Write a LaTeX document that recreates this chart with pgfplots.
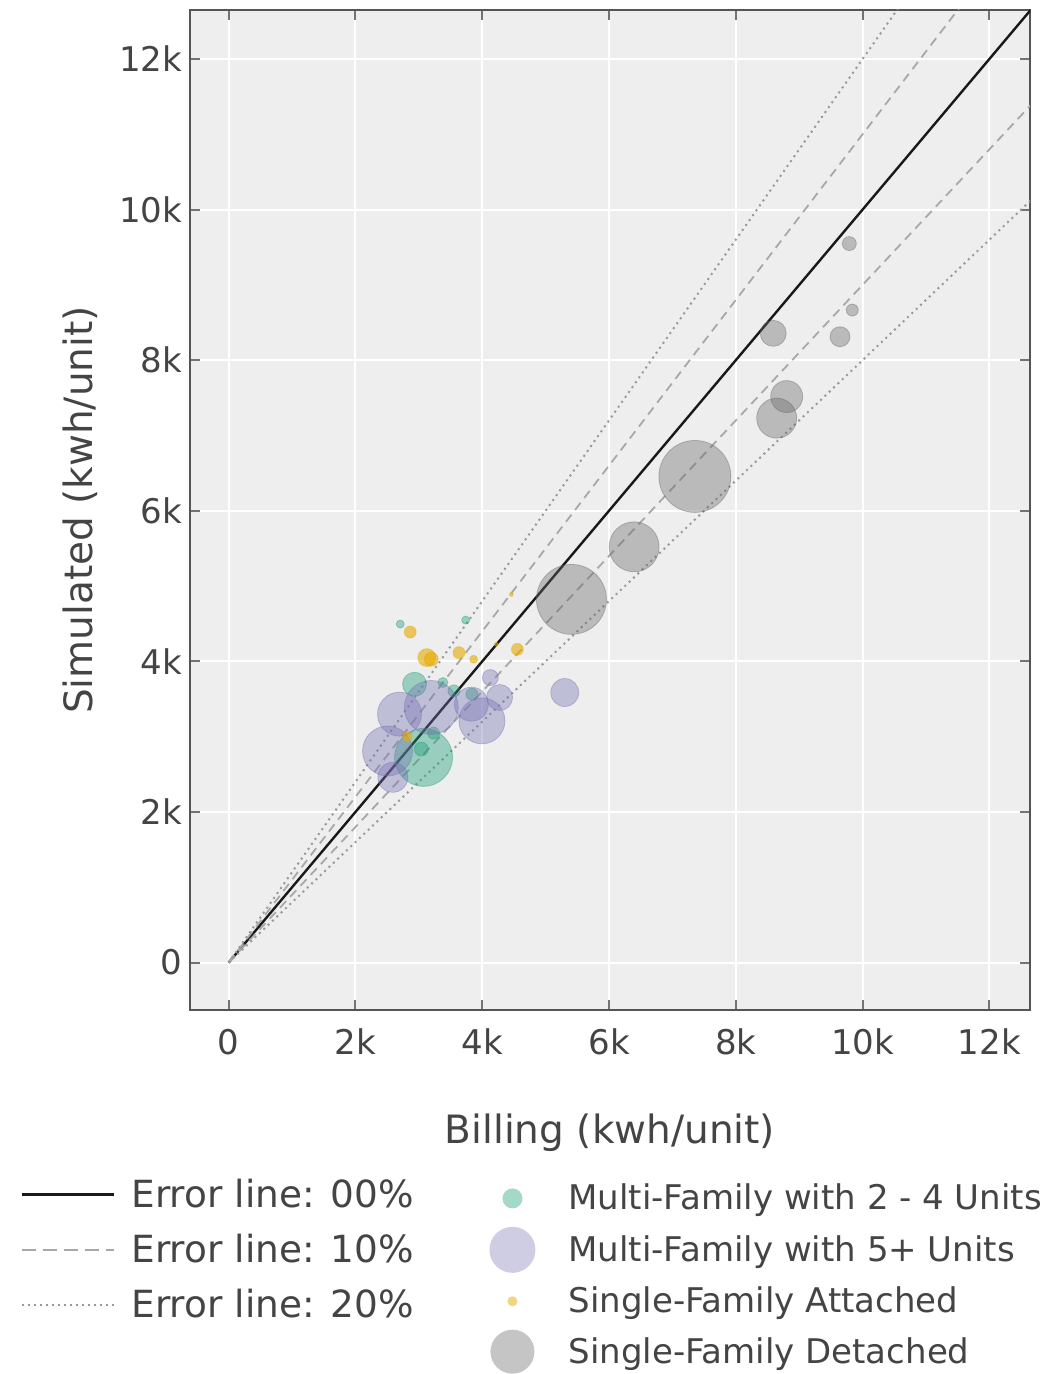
\documentclass[border=0pt]{standalone}
\usepackage{pgfplots}
\usepackage{pgfplotstable}
\pgfplotsset{compat=1.18}
\usepackage{fontspec}
\setmainfont{DejaVu Sans}
\definecolor{cgreen}{HTML}{1B9E77}
\definecolor{cpurple}{HTML}{7570B3}
\definecolor{cyellow}{HTML}{E6AB02}
\definecolor{cgray}{HTML}{666666}
\definecolor{bg}{HTML}{EEEEEE}
\definecolor{framec}{HTML}{555555}
\definecolor{tickc}{HTML}{444444}
\definecolor{dashc}{HTML}{A8A8A8}
\definecolor{dotc}{HTML}{999999}

\pgfplotstableread{
x y r
2706 4495 2
3738 4548 2
2932 3696 6
3379 3719 2.5
3553 3608 3
3837 3564 3
3074 2725 14.5
3232 3047 3
3038 2835 3.5
}\greendata
\pgfplotstableread{
x y r
4128 3785 4
5301 3586 7
4274 3520 6.5
3828 3431 8.5
3995 3210 11.5
3196 3388 13.5
2695 3299 11
2506 2809 12.5
2590 2460 7.5
}\purpledata
\pgfplotstableread{
x y r
2864 4389 3
3126 4050 4.5
3196 4028 3.5
3632 4116 3
3864 4028 2
4554 4160 3
4222 4226 1
2817 3003 2.5
4459 4889 1
}\yellowdata
\pgfplotstableread{
x y r
9790 9548 3.5
9837 8665 3
9643 8311 5
8590 8356 6.5
8802 7516 8
8644 7230 10
7354 6456 18
6395 5521 12.5
5407 4823 17.5
}\graydata

\pgfplotsset{
  bubble/.style 2 args={scatter, only marks, mark=*, forget plot,
    scatter/use mapped color={draw=#1, fill=#1, fill opacity=#2, draw opacity=0.4, line width=0.4pt},
    visualization depends on={\thisrow{r}\as\rr},
    scatter/@pre marker code/.append style={/tikz/mark size=\rr pt}},
}

\begin{document}
\begin{tikzpicture}
\begin{axis}[
  scale only axis, width=420pt, height=500pt,
  xmin=-610, xmax=12640, ymin=-630, ymax=12650,
  scaled x ticks=false, scaled y ticks=false,
  axis background/.style={fill=bg},
  axis line style={framec, line width=1.1pt},
  xtick={0,2000,4000,6000,8000,10000,12000},
  ytick={0,2000,4000,6000,8000,10000,12000},
  xticklabels={0,2k,4k,6k,8k,10k,12k},
  yticklabels={0,2k,4k,6k,8k,10k,12k},
  grid=major, major grid style={white, line width=1pt},
  tick align=inside, major tick length=5pt,
  tick style={color=gray!90!black, line width=1pt},
  ticklabel style={font=\fontsize{17}{20}\selectfont, text=tickc},
  xticklabel style={anchor=center, yshift=-16pt},
  yticklabel style={anchor=east, inner xsep=0pt, xshift=-3.7pt},
  xlabel={Billing (kwh/unit)},
  ylabel={Simulated (kwh/unit)},
  xlabel style={at={(axis description cs:0.5,-0.123)}, anchor=center, font=\fontsize{19.5}{23}\selectfont, text=tickc},
  ylabel style={at={(axis description cs:-0.131,0.5)}, anchor=center, rotate=0, font=\fontsize{19.5}{23}\selectfont, text=tickc},
  legend style={at={(-0.2024,-0.1642)}, anchor=north west, draw=none, fill=none,
    inner sep=0pt, row sep=8pt, font=\fontsize{18.7}{22}\selectfont, nodes={text=tickc}},
  legend cell align=left,
]
\addplot[black!90, line width=1.2pt, forget plot] coordinates {(0,0) (13000,13000)};
\addplot[dashc, line width=0.9pt, dash pattern=on 4.5pt off 3pt, forget plot] coordinates {(0,0) (13000,14300)};
\addplot[dashc, line width=0.9pt, dash pattern=on 4.5pt off 3pt, forget plot] coordinates {(0,0) (14000,12600)};
\addplot[dotc, line width=1pt, dash pattern=on 1pt off 2pt, forget plot] coordinates {(0,0) (13000,15600)};
\addplot[dotc, line width=1pt, dash pattern=on 1pt off 2pt, forget plot] coordinates {(0,0) (16000,12800)};

\addplot[bubble={cgreen}{0.4}] table[x=x,y=y] {\greendata};
\addplot[bubble={cpurple}{0.38}] table[x=x,y=y] {\purpledata};
\addplot[bubble={cyellow}{0.6}] table[x=x,y=y] {\yellowdata};
\addplot[bubble={cgray}{0.38}] table[x=x,y=y] {\graydata};

\addlegendimage{legend image code/.code={\draw[black!90, line width=1.2pt, solid] (0pt,0pt) -- (46pt,0pt); \path[draw=none] (53pt,0pt);}}
\addlegendentry{Error line: 00\%}
\addlegendimage{legend image code/.code={\draw[dashc, line width=0.9pt, dash pattern=on 7pt off 3.5pt] (0pt,0pt) -- (46pt,0pt); \path[draw=none] (53pt,0pt);}}
\addlegendentry{Error line: 10\%}
\addlegendimage{legend image code/.code={\draw[dotc, line width=1pt, dash pattern=on 1pt off 2pt] (0pt,0pt) -- (46pt,0pt); \path[draw=none] (53pt,0pt);}}
\addlegendentry{Error line: 20\%}
\end{axis}

\begin{axis}[
  scale only axis, width=420pt, height=500pt, hide axis,
  xmin=0, xmax=1, ymin=0, ymax=1,
  legend style={at={(0.356,-0.1696)}, anchor=north west, draw=none, fill=none,
    inner sep=0pt, row sep=5pt, font=\fontsize{17}{20}\selectfont, nodes={text=tickc}},
  legend cell align=left,
]
\addplot[draw=none, forget plot] coordinates {(0.5,0.5)};
\addlegendimage{legend image code/.code={\path[draw=none,fill=none] (-11.5pt,0pt) -- (26pt,0pt); \fill[draw=none, fill=cgreen, fill opacity=0.4] (0pt,0pt) circle (5pt);}}
\addlegendentry{Multi-Family with 2 - 4 Units}
\addlegendimage{legend image code/.code={\path[draw=none,fill=none] (-11.5pt,0pt) -- (26pt,0pt); \fill[draw=none, fill=cpurple, fill opacity=0.35] (0pt,0pt) circle (11.5pt);}}
\addlegendentry{Multi-Family with 5+ Units}
\addlegendimage{legend image code/.code={\path[draw=none,fill=none] (-11.5pt,0pt) -- (26pt,0pt); \fill[draw=none, fill=cyellow, fill opacity=0.5] (0pt,0pt) circle (2.5pt);}}
\addlegendentry{Single-Family Attached}
\addlegendimage{legend image code/.code={\path[draw=none,fill=none] (-11.5pt,0pt) -- (26pt,0pt); \fill[draw=none, fill=cgray, fill opacity=0.38] (0pt,0pt) circle (11pt);}}
\addlegendentry{Single-Family Detached}
\end{axis}
\pgfresetboundingbox
\path (-95pt,-182pt) rectangle (431pt,505pt);
\end{tikzpicture}
\end{document}
